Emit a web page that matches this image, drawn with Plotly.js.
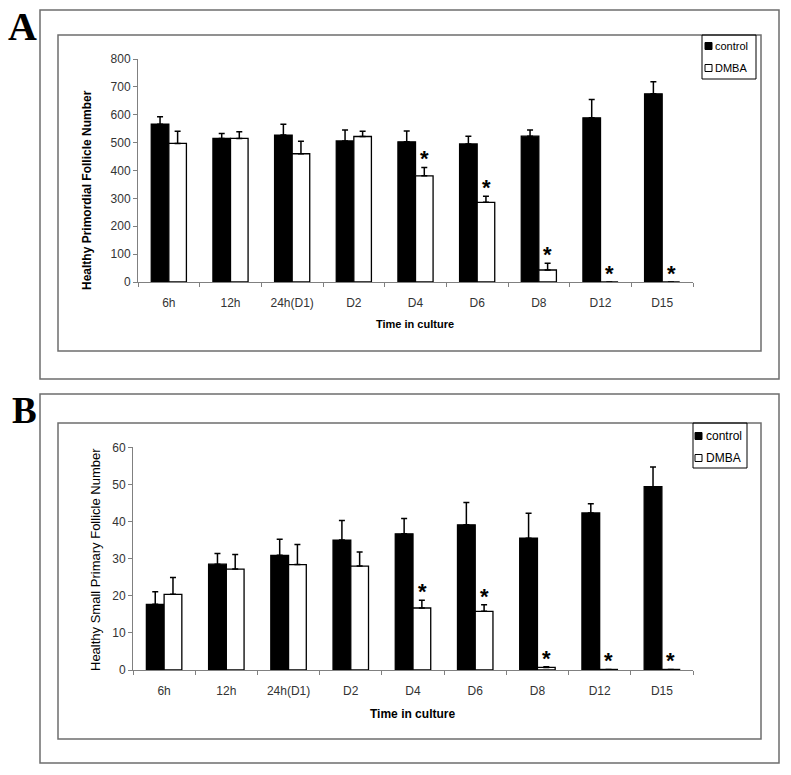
<!DOCTYPE html>
<html lang="en">
<head>
  <meta charset="UTF-8">
  <title>Healthy follicle numbers in culture</title>
  <script src="https://cdn.plot.ly/plotly-3.0.1.min.js"></script>
  <style>
    body { margin: 0; background: #ffffff; }
    #chart { width: 791px; height: 775px; }
  </style>
</head>
<body>
  <div id="chart"></div>
  <script>
    // categories and series
    const categories = ['6h', '12h', '24h(D1)', 'D2', 'D4', 'D6', 'D8', 'D12', 'D15'];
    const seriesNames = ['control', 'DMBA'];
    const seriesFills = ['#000000', '#ffffff'];

    // panel A: healthy primordial follicles (mean, SEM)
    const primControl = [566, 515, 527, 506, 503, 495, 523, 589, 675];
    const primControlErr = [27, 18, 39, 39, 39, 28, 22, 66, 43];
    const primDmba = [497, 515, 460, 522, 381, 286, 43, 0, 0];
    const primDmbaErr = [44, 24, 45, 19, 30, 22, 24, null, null];
    const primSig = [false, false, false, false, true, true, true, true, true];

    // panel B: healthy small primary follicles
    const smallControl = [17.7, 28.5, 30.9, 35.0, 36.7, 39.1, 35.5, 42.3, 49.4];
    const smallControlErr = [3.4, 2.9, 4.3, 5.3, 4.1, 6.0, 6.7, 2.5, 5.3];
    const smallDmba = [20.4, 27.2, 28.4, 28.0, 16.7, 15.8, 0.7, 0.15, 0.15];
    const smallDmbaErr = [4.5, 3.9, 5.4, 3.8, 2.1, 1.8, 0.2, null, null];
    const smallSig = [false, false, false, false, true, true, true, true, true];

    const W = 791, H = 775;
    const px = v => v / W;
    const py = v => 1 - v / H;

    function barTrace(name, vals, errs, fill, xa, ya) {
      return {
        type: 'bar', name: name, x: categories, y: vals,
        xaxis: xa, yaxis: ya, showlegend: false,
        marker: { color: fill, line: { color: '#000000', width: 1.3 } },
        error_y: {
          type: 'data', symmetric: false, array: errs,
          arrayminus: vals.map(() => 0),
          color: '#000000', thickness: 1.5, width: 3
        }
      };
    }

    const data = [
      barTrace(seriesNames[0], primControl, primControlErr, seriesFills[0], 'x', 'y'),
      barTrace(seriesNames[1], primDmba, primDmbaErr, seriesFills[1], 'x', 'y'),
      barTrace(seriesNames[0], smallControl, smallControlErr, seriesFills[0], 'x2', 'y2'),
      barTrace(seriesNames[1], smallDmba, smallDmbaErr, seriesFills[1], 'x2', 'y2')
    ];

    const tickFont = { family: 'Liberation Sans, Arial, sans-serif', size: 12, color: '#333333' };
    const xCommon = {
      type: 'category', tickson: 'boundaries', ticks: 'outside', ticklen: 4,
      tickcolor: '#808080', showline: true, linecolor: '#808080', linewidth: 1,
      showgrid: false, tickfont: tickFont, ticklabelstandoff: 10, fixedrange: true
    };
    const yCommon = {
      ticks: 'outside', ticklen: 4, tickcolor: '#808080', showline: true,
      linecolor: '#808080', linewidth: 1, showgrid: false, zeroline: false,
      tickfont: tickFont, fixedrange: true
    };

    const shapes = [];
    const annotations = [];
    const boxLine = { color: '#6e6e6e', width: 1.5 };
    function rect(x0, y0, x1, y1, line, fill) {
      shapes.push({
        type: 'rect', xref: 'paper', yref: 'paper',
        x0: px(x0), x1: px(x1), y0: py(y1), y1: py(y0),
        line: line, fillcolor: fill || 'rgba(0,0,0,0)', layer: 'below'
      });
    }
    function text(t, x, y, font, extra) {
      annotations.push(Object.assign({
        text: t, x: px(x), y: py(y), xref: 'paper', yref: 'paper',
        xanchor: 'center', yanchor: 'middle',
        showarrow: false, font: font
      }, extra || {}));
    }

    // frames
    rect(40, 10, 779, 379, boxLine);
    rect(58, 35, 761, 351, boxLine);
    rect(40, 394, 779, 763, boxLine);
    rect(58, 423, 761, 739, boxLine);

    // panel letters
    const letterFont = { family: 'Liberation Serif, Times New Roman, serif', size: 40, color: '#000000', weight: 'bold' };
    text('A', 22, 27, letterFont);
    text('B', 25, 411, Object.assign({}, letterFont, { size: 37 }));

    // axis titles
    const titleA = { family: 'Liberation Sans, Arial, sans-serif', size: 12, color: '#000000', weight: 'bold' };
    text('Healthy Primordial Follicle Number', 87, 190, titleA, { textangle: -90 });
    text('Time in culture', 415, 324, Object.assign({}, titleA, { size: 11 }));
    const titleB = { family: 'Liberation Sans Narrow, Arial Narrow, Liberation Sans, sans-serif', size: 13, color: '#000000' };
    text('Healthy Small Primary Follicle Number', 95, 560, titleB, { textangle: -90 });
    text('Time in culture', 412, 714, Object.assign({}, titleB, { size: 12, weight: 'bold' }));

    // legends
    function legend(x0, y0, x1, y1, sq, rowY, textX, font) {
      rect(x0, y0, x1, y1, { color: '#000000', width: 1 });
      seriesNames.forEach((n, i) => {
        rect(sq[0], rowY[i] - sq[1] / 2, sq[0] + sq[1], rowY[i] + sq[1] / 2,
          { color: '#000000', width: 1 }, seriesFills[i]);
        text(n, textX, rowY[i], font, { xanchor: 'left' });
      });
    }
    const legFont = { family: 'Liberation Sans, Arial, sans-serif', size: 11, color: '#000000' };
    legend(702, 35, 756, 79, [705, 7], [46, 68], 713, legFont);
    legend(693, 423, 747, 468, [695, 7], [436, 458], 704,
      Object.assign({}, legFont, { family: 'Liberation Sans Narrow, Arial Narrow, Liberation Sans, sans-serif', size: 12 }));

    // significance asterisks above DMBA bars
    function stars(sig, vals, errs, xa, ya) {
      sig.forEach((s, i) => {
        if (!s) return;
        annotations.push({
          text: '*', x: categories[i], y: vals[i] + (errs[i] || 0),
          xref: xa, yref: ya, showarrow: false, xshift: 9, yshift: -6,
          xanchor: 'center', yanchor: 'bottom',
          font: { family: 'Liberation Sans, Arial, sans-serif', size: 22, color: '#000000', weight: 'bold' }
        });
      });
    }
    stars(primSig, primDmba, primDmbaErr, 'x', 'y');
    stars(smallSig, smallDmba, smallDmbaErr, 'x2', 'y2');

    const layout = {
      width: W, height: H,
      margin: { l: 0, r: 0, t: 0, b: 0 },
      paper_bgcolor: '#ffffff', plot_bgcolor: 'rgba(0,0,0,0)',
      barmode: 'group', bargap: 0.43, bargroupgap: 0,
      showlegend: false,
      xaxis: Object.assign({}, xCommon, { domain: [px(138), px(693)], anchor: 'y' }),
      yaxis: Object.assign({}, yCommon, { domain: [py(282), py(59)], range: [0, 800], dtick: 100, anchor: 'x' }),
      xaxis2: Object.assign({}, xCommon, { domain: [px(133), px(693)], anchor: 'y2' }),
      yaxis2: Object.assign({}, yCommon, { domain: [py(670), py(447.3)], range: [0, 60], dtick: 10, anchor: 'x2' }),
      shapes: shapes,
      annotations: annotations
    };

    Plotly.newPlot('chart', data, layout, { displayModeBar: false, staticPlot: true });
  </script>
</body>
</html>
